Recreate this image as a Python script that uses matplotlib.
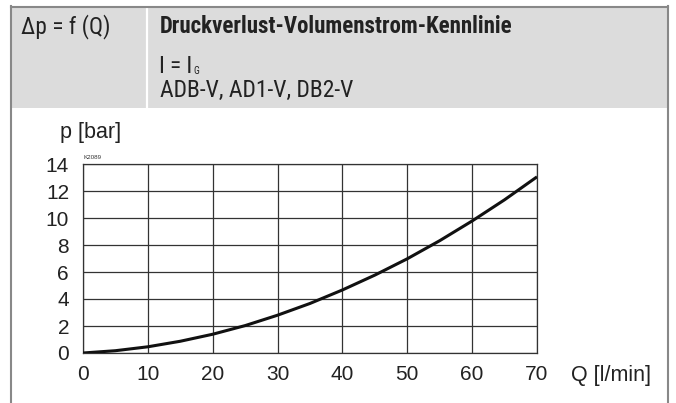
import matplotlib
matplotlib.use("Agg")
import matplotlib.pyplot as plt
from matplotlib.patches import Rectangle
from matplotlib.lines import Line2D
from matplotlib import font_manager

# Data
flow_q = [0, 5, 10, 15, 20, 25, 30, 35, 40, 45, 50, 55, 60, 65, 70]
pressure_p = [0.0, 0.17, 0.46, 0.87, 1.39, 2.03, 2.8, 3.67, 4.67, 5.77, 6.98, 8.32, 9.78, 11.35, 13.05]
x_ticks = [0, 10, 20, 30, 40, 50, 60, 70]
y_ticks = [0, 2, 4, 6, 8, 10, 12, 14]

W, H = 676, 403
fig = plt.figure(figsize=(W / 100, H / 100), dpi=100)


def fx(px):
    return px / W


def fy(py):
    return 1 - py / H


names = {f.name for f in font_manager.fontManager.ttflist}
condensed_dejavu = any(f.name == "DejaVu Sans" and str(f.stretch) in ("condensed", "semi-condensed")
                       for f in font_manager.fontManager.ttflist)
narrow_family = None
narrow_stretch = "normal"
for cand in ["Liberation Sans Narrow", "Roboto Condensed", "Open Sans Condensed", "Arial Narrow"]:
    if cand in names:
        narrow_family = cand
        break
if narrow_family is None:
    if condensed_dejavu:
        narrow_family = "DejaVu Sans"
        narrow_stretch = "condensed"
    else:
        narrow_family = "Roboto" if "Roboto" in names else "DejaVu Sans"
narrow = [narrow_family, "DejaVu Sans"]
arial = ["Liberation Sans", "DejaVu Sans"]
txt_col = "#222222"

# header background
fig.add_artist(Rectangle((fx(11), fy(108)), fx(668) - fx(11), fy(7) - fy(108),
                         transform=fig.transFigure, facecolor="#dcdcdc", edgecolor="none", zorder=0))
# white divider in header
fig.add_artist(Line2D([fx(147), fx(147)], [fy(7), fy(108)], transform=fig.transFigure,
                      color="white", lw=1.6, zorder=1))
# frame lines
fig.add_artist(Line2D([fx(11), fx(668)], [fy(6.5), fy(6.5)], transform=fig.transFigure,
                      color="#888888", lw=1.5, zorder=2))
fig.add_artist(Line2D([fx(11), fx(11)], [fy(6), fy(403)], transform=fig.transFigure,
                      color="#888888", lw=1.5, zorder=2))
fig.add_artist(Line2D([fx(668), fx(668)], [fy(6), fy(403)], transform=fig.transFigure,
                      color="#888888", lw=1.5, zorder=2))

renderer = fig.canvas.get_renderer()


def fit_text(x, y, s, target_w, size=15, max_size=17, **kw):
    t = fig.text(fx(x), fy(y), s, family=narrow, fontstretch=narrow_stretch, fontsize=size,
                 color=txt_col, va="baseline", **kw)
    w = t.get_window_extent(renderer).width
    t.set_fontsize(min(max_size, size * target_w / w))
    return t


# header texts
fit_text(21, 33, "\u0394p = f (Q)", 89)
fit_text(160, 33, "Druckverlust-Volumenstrom-Kennlinie", 353, fontweight="bold")
t_i = fit_text(159, 73, "I = I", 33, max_size=19)
x_g = t_i.get_window_extent(renderer).x1 + 1.5
fig.text(x_g / W, fy(73.5), "G", family=narrow, fontstretch=narrow_stretch, fontsize=7,
         color=txt_col, va="baseline", ha="left")
fit_text(160, 97, "ADB-V, AD1-V, DB2-V", 202)

# axes
ax = fig.add_axes([fx(83), fy(353), fx(537) - fx(83), fy(164) - fy(353)])
ax.plot(flow_q, pressure_p, color="#111111", lw=2.2, solid_capstyle="butt", zorder=3)
ax.set_xlim(0, 70)
ax.set_ylim(0, 14)
ax.set_xticks(x_ticks)
ax.set_yticks(y_ticks)
ax.grid(True, color="#333333", lw=0.9)
for s in ax.spines.values():
    s.set_color("#333333")
    s.set_linewidth(0.9)
ax.tick_params(length=0, labelsize=15, colors=txt_col)
ax.tick_params(axis="y", pad=10)
ax.tick_params(axis="x", pad=9)
for lbl in ax.get_xticklabels() + ax.get_yticklabels():
    lbl.set_family(arial)

fig.text(fx(91), fy(138), "p [bar]", family=arial, fontsize=15.5, color=txt_col,
         ha="center", va="baseline")
fig.text(fx(571), fy(375), "Q [l/min]", family=arial, fontsize=15.5, color=txt_col,
         ha="left", va="center")
fig.text(fx(83), fy(159), "K2089", family=arial, fontsize=4.5, color="#333333",
         ha="left", va="baseline")

fig.savefig("out.png", dpi=100)
